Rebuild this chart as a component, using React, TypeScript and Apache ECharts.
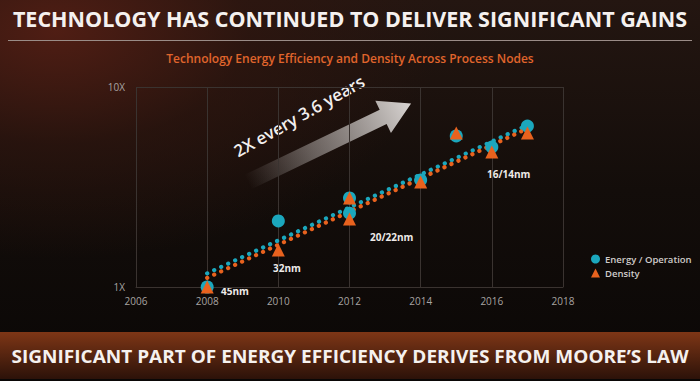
import React, { useEffect, useRef } from "react";
import * as echarts from "echarts";

const years = [2008, 2010, 2012, 2012, 2014, 2015, 2016, 2017];
const energyValues = [1.0, 2.14, 2.79, 2.34, 3.43, 5.69, 5.01, 6.38];
const densityValues = [1.0, 1.53, 2.79, 2.19, 3.35, 5.89, 4.73, 5.89];
const trendYears = [2008, 2017];
const energyTrend = [1.17, 6.45];
const densityTrend = [1.11, 6.2];
const xTicks = [2006, 2008, 2010, 2012, 2014, 2016, 2018];
const yTickLabels: Record<number, string> = { 1: "1X", 10: "10X" };
const nodeLabels = ["45nm", "32nm", "20/22nm", "16/14nm"];

const CYAN = "#1ba7bd";
const ORANGE = "#e8621e";
const FONT = "'Open Sans', 'Noto Sans', sans-serif";

export default function App() {
  const ref = useRef<HTMLDivElement>(null);
  useEffect(() => {
    if (!ref.current) return;
    const chart = echarts.init(ref.current, null, { renderer: "svg" });
    const nodePos = [
      [221, 291],
      [273, 268],
      [370, 237],
      [487, 174],
    ];
    const arrowAngle = (25.7 * Math.PI) / 180;
    chart.setOption({
      animation: false,
      backgroundColor: "transparent",
      textStyle: { fontFamily: FONT },
      grid: { left: 136, right: 137, top: 87, bottom: 94 },
      xAxis: {
        type: "value",
        min: xTicks[0],
        max: xTicks[xTicks.length - 1],
        interval: 2,
        axisLine: { show: true, lineStyle: { color: "#3a3330", width: 1 } },
        axisTick: { show: false },
        splitLine: { show: true, lineStyle: { color: "#3a3330", width: 1 } },
        axisLabel: {
          color: "#a8a4a2",
          fontSize: 10,
          margin: 9,
          fontFamily: FONT,
          formatter: (v: number) => String(v),
        },
      },
      yAxis: {
        type: "log",
        logBase: 10,
        min: 1,
        max: 10,
        axisLine: { show: false },
        axisTick: { show: false },
        splitLine: { show: true, lineStyle: { color: "#3a3330", width: 1 } },
        axisLabel: {
          color: "#a8a4a2",
          fontSize: 10,
          margin: 11,
          fontFamily: FONT,
          formatter: (v: number) => yTickLabels[Math.round(v)] ?? "",
        },
      },
      legend: {
        data: [
          { name: "Energy / Operation", icon: "circle" },
          { name: "Density", icon: "triangle" },
        ],
        orient: "vertical",
        left: 586,
        top: 249,
        itemWidth: 9,
        itemHeight: 9,
        itemGap: 4,
        textStyle: { color: "#d0ccca", fontSize: 9.5, fontFamily: FONT, fontWeight: 600 },
      },
      series: [
        {
          name: "EnergyTrend",
          type: "line",
          data: trendYears.map((x, i) => [x, energyTrend[i]]),
          symbol: "none",
          lineStyle: { color: CYAN, width: 4.2, type: [0.1, 7.6], cap: "round" },
          z: 2,
        },
        {
          name: "DensityTrend",
          type: "line",
          data: trendYears.map((x, i) => [x, densityTrend[i]]),
          symbol: "none",
          lineStyle: { color: ORANGE, width: 4.2, type: [0.1, 7.6], cap: "round" },
          z: 2,
        },
        {
          name: "Energy / Operation",
          type: "scatter",
          data: years.map((x, i) => [x, energyValues[i]]),
          symbol: "circle",
          symbolSize: 13,
          itemStyle: { color: CYAN, opacity: 1 },
          z: 3,
        },
        {
          name: "Density",
          type: "scatter",
          data: years.map((x, i) => [x, densityValues[i]]),
          symbol: "triangle",
          symbolSize: 13,
          itemStyle: { color: ORANGE, opacity: 1 },
          z: 4,
        },
      ],
      graphic: [
        {
          type: "text",
          x: 350,
          y: 19,
          scaleX: 1.05,
          style: {
            text: "TECHNOLOGY HAS CONTINUED TO DELIVER SIGNIFICANT GAINS",
            fill: "#f5f1ef",
            fontSize: 20.5,
            fontWeight: "bold",
            fontFamily: FONT,
            textAlign: "center",
            textVerticalAlign: "middle",
          },
        },
        {
          type: "line",
          shape: { x1: 8, y1: 40.5, x2: 692, y2: 40.5 },
          style: { stroke: "#9a8c87", lineWidth: 1 },
        },
        {
          type: "text",
          x: 350,
          y: 58,
          style: {
            text: "Technology Energy Efficiency and Density Across Process Nodes",
            fill: "#e0652c",
            fontSize: 12,
            fontWeight: 600,
            fontFamily: FONT,
            textAlign: "center",
            textVerticalAlign: "middle",
          },
        },
        {
          type: "polygon",
          x: 248,
          y: 182,
          rotation: arrowAngle,
          shape: {
            points: [
              [0, -8],
              [150, -8],
              [150, -18],
              [181, 0],
              [150, 18],
              [150, 8],
              [0, 8],
            ],
          },
          style: {
            fill: {
              type: "linear",
              x: 0,
              y: 0,
              x2: 1,
              y2: 0,
              colorStops: [
                { offset: 0, color: "rgba(200,195,192,0)" },
                { offset: 0.4, color: "rgba(200,195,192,0.45)" },
                { offset: 1, color: "rgba(222,218,216,0.97)" },
              ],
            },
          },
        },
        {
          type: "text",
          x: 299,
          y: 116,
          rotation: (29.5 * Math.PI) / 180,
          style: {
            text: "2X every 3.6 years",
            fill: "#f2efee",
            fontSize: 17,
            fontWeight: 600,
            fontFamily: FONT,
            textAlign: "center",
            textVerticalAlign: "middle",
          },
        },
        ...nodeLabels.map((t, i) => ({
          type: "text",
          x: nodePos[i][0],
          y: nodePos[i][1],
          style: {
            text: t,
            fill: "#eeeae8",
            fontSize: 10,
            fontWeight: "bold",
            fontFamily: FONT,
            textAlign: "left",
            textVerticalAlign: "middle",
          },
        })),
        {
          type: "rect",
          shape: { x: 0, y: 332, width: 700, height: 47 },
          style: {
            fill: {
              type: "linear",
              x: 0,
              y: 0,
              x2: 0,
              y2: 1,
              colorStops: [
                { offset: 0, color: "#7e3616" },
                { offset: 1, color: "#2c1209" },
              ],
            },
          },
        },
        {
          type: "text",
          x: 350,
          y: 356,
          z: 10,
          scaleX: 1.045,
          style: {
            text: "SIGNIFICANT PART OF ENERGY EFFICIENCY DERIVES FROM MOORE\u2019S LAW",
            fill: "#f5f1ef",
            fontSize: 18.2,
            fontWeight: "bold",
            fontFamily: FONT,
            textAlign: "center",
            textVerticalAlign: "middle",
          },
        },
      ],
    });
    return () => chart.dispose();
  }, []);
  return (
    <div
      style={{
        position: "fixed",
        left: 0,
        top: 0,
        width: 700,
        height: 381,
        background:
          "radial-gradient(ellipse 55% 60% at 8% 8%, rgba(82,30,20,0.95) 0%, rgba(50,22,15,0.6) 50%, rgba(0,0,0,0) 100%), linear-gradient(180deg, #241611 0%, #130d0a 50%, #0a0706 100%)",
      }}
    >
      <div ref={ref} style={{ width: 700, height: 381 }} />
    </div>
  );
}
